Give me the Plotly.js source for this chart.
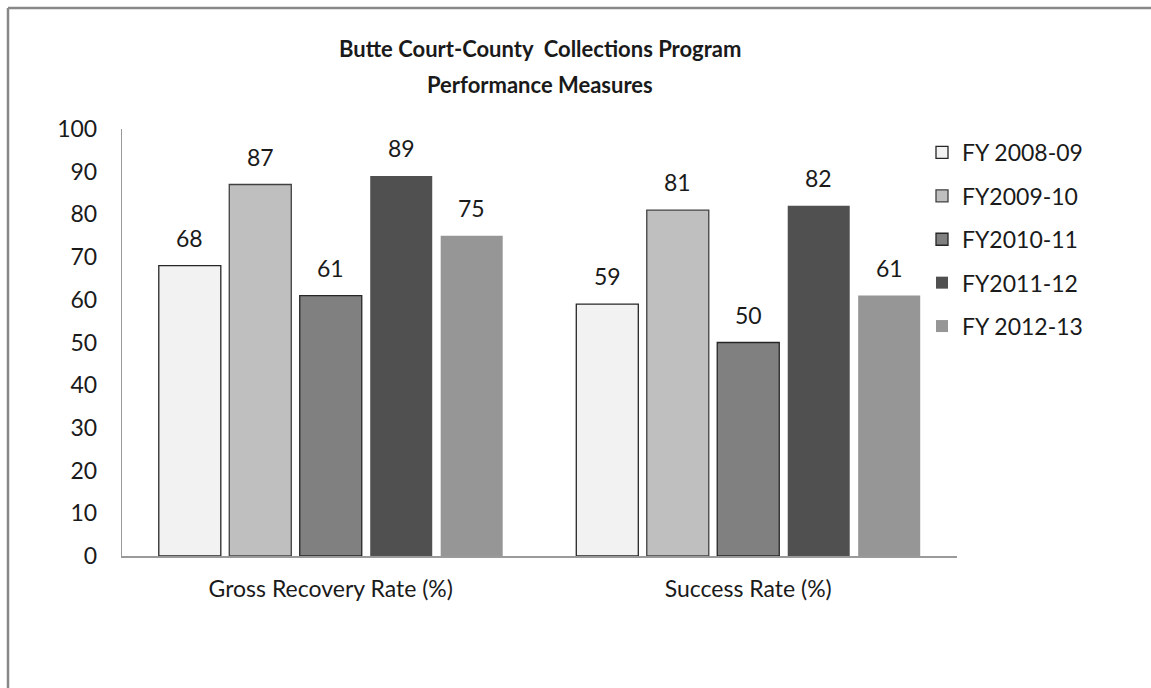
<!DOCTYPE html>
<html>
<head>
<meta charset="utf-8">
<script src="https://cdn.plot.ly/plotly-3.0.1.min.js"></script>
<style>
html,body{margin:0;padding:0;background:#fff;}
#chart{width:1151px;height:688px;}
</style>
</head>
<body>
<div id="chart"></div>
<script>
var titleLines = ['Butte Court-County  Collections Program', 'Performance Measures'];
var categories = ['Gross Recovery Rate (%)', 'Success Rate (%)'];
var seriesNames = ['FY 2008-09', 'FY2009-10', 'FY2010-11', 'FY2011-12', 'FY 2012-13'];
var fy0809 = [68, 59];
var fy0910 = [87, 81];
var fy1011 = [61, 50];
var fy1112 = [89, 82];
var fy1213 = [75, 61];
var yTicks = [0, 10, 20, 30, 40, 50, 60, 70, 80, 90, 100];

var seriesValues = [fy0809, fy0910, fy1011, fy1112, fy1213];
var colors = ['#F2F2F2', '#BFBFBF', '#808080', '#505050', '#969696'];
var lineColors = ['#262626', '#404040', '#262626', '#505050', '#969696'];
var lineWidths = [1.3, 1.3, 1.3, 0, 0];

var bargap = 0.156;
var nSeries = seriesValues.length;
var slot = (1 - bargap) / nSeries;

var font = 'Lato, "Noto Sans", sans-serif';
var textColor = '#1a1a1a';
var fs = 23;

var plotTop = 129, plotH = 427;
function py(p) { return 1 + (plotTop - p) / plotH; }

var traces = seriesValues.map(function (vals, i) {
  return {
    type: 'bar',
    name: seriesNames[i],
    x: [0, 1],
    y: vals,
    legendgroup: 'g' + i,
    marker: {color: colors[i], line: {color: lineColors[i], width: lineWidths[i]}},
    hoverinfo: 'name+y'
  };
});

var annotations = [];
seriesValues.forEach(function (vals, i) {
  vals.forEach(function (v, j) {
    annotations.push({
      x: j + (i - (nSeries - 1) / 2) * slot,
      y: v,
      xref: 'x', yref: 'y',
      text: String(v),
      showarrow: false,
      yanchor: 'bottom',
      yshift: 12,
      font: {family: font, size: fs, color: textColor}
    });
  });
});
titleLines.forEach(function (t, k) {
  annotations.push({
    x: 0.5, xref: 'paper', xanchor: 'center',
    y: py(48 + k * 37), yref: 'paper', yanchor: 'middle',
    text: '<b>' + t + '</b>',
    showarrow: false,
    font: {family: font, size: 22, color: textColor}
  });
});

var layout = {
  width: 1151,
  height: 688,
  paper_bgcolor: '#ffffff',
  plot_bgcolor: '#ffffff',
  margin: {l: 122, r: 194, t: 129, b: 132},
  barmode: 'group',
  bargap: bargap,
  bargroupgap: 0.12,
  xaxis: {
    type: 'linear',
    range: [-0.5, 1.5],
    tickmode: 'array',
    tickvals: [0, 1],
    ticktext: categories,
    showgrid: false,
    zeroline: false,
    showline: true,
    linecolor: '#9a9a9a',
    linewidth: 1.5,
    ticks: '',
    ticklabelstandoff: 12,
    tickfont: {family: font, size: fs, color: textColor},
    fixedrange: true
  },
  yaxis: {
    range: [0, 100],
    tickmode: 'array',
    tickvals: yTicks,
    ticktext: yTicks.map(String),
    showgrid: false,
    zeroline: false,
    showline: true,
    linecolor: '#9a9a9a',
    linewidth: 1.2,
    ticks: '',
    ticklabelstandoff: 19,
    tickfont: {family: font, size: fs, color: textColor},
    fixedrange: true
  },
  legend: {
    x: (922 - 122) / 835,
    xanchor: 'left',
    y: py(131),
    yanchor: 'top',
    traceorder: 'grouped',
    tracegroupgap: 10.5,
    font: {family: font, size: fs, color: textColor},
    bgcolor: 'rgba(0,0,0,0)'
  },
  annotations: annotations,
  shapes: [
    {type: 'line', xref: 'paper', yref: 'paper', x0: -114 / 835, x1: 1100 / 835, y0: py(8), y1: py(8), line: {color: '#888888', width: 2.5}},
    {type: 'line', xref: 'paper', yref: 'paper', x0: -114 / 835, x1: -114 / 835, y0: py(8), y1: py(700), line: {color: '#888888', width: 2.5}}
  ],
  showlegend: true
};

Plotly.newPlot('chart', traces, layout, {displayModeBar: false, staticPlot: true});
</script>
</body>
</html>
